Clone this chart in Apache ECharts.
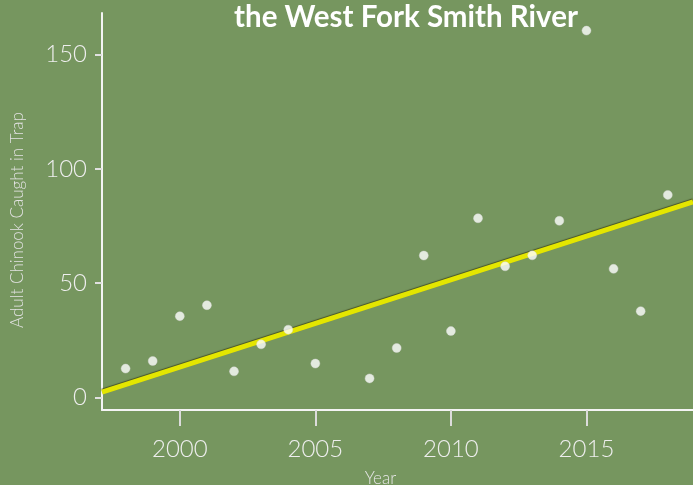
<!DOCTYPE html>
<html><head><meta charset="utf-8">
<script src="https://cdn.jsdelivr.net/npm/echarts@6/dist/echarts.min.js"></script>
<style>html,body{margin:0;padding:0;background:#76965f;overflow:hidden;}#c{width:693px;height:485px;}</style>
</head><body><div id="c"></div>
<script>
const years = [1998,1999,2000,2001,2002,2003,2004,2005,2007,2008,2009,2010,2011,2012,2013,2014,2015,2016,2017,2018];
const counts = [12.7,16.0,35.6,40.4,11.5,23.3,29.7,14.9,8.4,21.7,62.1,29.1,78.4,57.4,62.2,77.3,160.4,56.3,37.8,88.6];
const trendX = [1997.13, 2018.93];
const trendY = [2.45, 85.6];
const yTicks = [0,50,100,150];
const xTicks = [2000,2005,2010,2015];
const titleText = 'the West Fork Smith River';
const xName = 'Year';
const yName = 'Adult Chinook Caught in Trap';

const chart = echarts.init(document.getElementById('c'));
const labelFont = 'Lato';
chart.setOption({
  backgroundColor: '#76965f',
  animation: false,
  title: {
    text: titleText, left: 401, top: -3, textAlign: 'center',
    textStyle: {color:'#ffffff', fontFamily:'Lato', fontWeight:'bold', fontSize:29.5}
  },
  grid: {left:102, right:0, top:13, bottom:75, containLabel:false, outerBoundsMode:'none'},
  xAxis: {
    type:'value', min:1997.13, max:2018.93,
    splitLine:{show:false},
    axisLine:{onZero:false, lineStyle:{color:'#f4f4f4', width:2}},
    axisTick:{show:true, inside:false, customValues:xTicks, length:16, lineStyle:{color:'#dcdcdc', width:2}},
    axisLabel:{customValues:xTicks, margin:27, color:'#eeeeee', fontSize:24, fontFamily:labelFont, fontWeight:300,
      formatter: v => String(v)},
    name:xName, nameLocation:'middle', nameGap:60,
    nameTextStyle:{color:'#e6e6e6', fontSize:17, fontFamily:labelFont, fontWeight:300, padding:[0,0,0,-34]}
  },
  yAxis: {
    type:'value', min:-5.4, max:168.1,
    splitLine:{show:false},
    axisLine:{show:true, onZero:false, lineStyle:{color:'#f4f4f4', width:2}},
    axisTick:{show:true, customValues:yTicks, length:7, lineStyle:{color:'#e0e0e0', width:2}},
    axisLabel:{customValues:yTicks, margin:15, color:'#eeeeee', fontSize:24, fontFamily:labelFont, fontWeight:300},
    name:yName, nameLocation:'middle', nameGap:76, nameRotate:90,
    nameTextStyle:{color:'#e2e2e2', fontSize:17, fontFamily:labelFont, fontWeight:300, padding:[0,0,0,-17]}
  },
  series: [
    {
      type:'line', data: trendX.map((x,i)=>[x,trendY[i]]),
      symbol:'none', lineStyle:{color:'#e4e600', width:5, shadowColor:'rgba(40,40,0,0.6)', shadowBlur:1, shadowOffsetY:-1}, z:3
    },
    {
      type:'scatter', data: years.map((y,i)=>[y,counts[i]]),
      symbolSize:9, itemStyle:{color:'#ffffff', borderColor:'#d8d8d8', borderWidth:0.5}, z:4
    }
  ]
});
</script></body></html>
